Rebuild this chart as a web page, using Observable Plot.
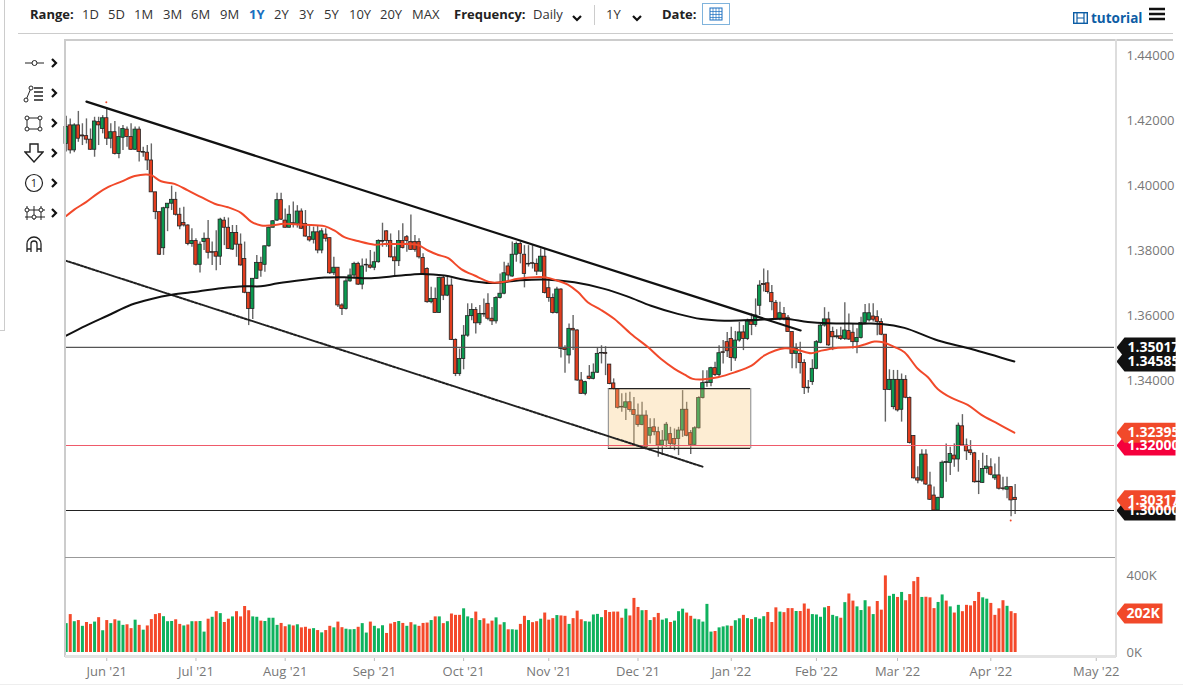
<!DOCTYPE html>
<html><head><meta charset="utf-8">
<script src="https://cdn.jsdelivr.net/npm/d3@7"></script>
<script src="https://cdn.jsdelivr.net/npm/@observablehq/plot@0.6"></script>
<style>
html,body{margin:0;padding:0;background:#fff;overflow:hidden}
#page{position:relative;width:1183px;height:689px;font-family:"Open Sans",sans-serif;color:#222;overflow:hidden}
#page>svg,#page>div.p{position:absolute}
.t{position:absolute;top:5px;font-size:13px;line-height:18px;white-space:nowrap;color:#333}
.b{font-weight:700;color:#222}
.l{position:absolute;background:#ccc}
.ic{position:absolute}
</style></head><body><div id="page"></div>
<script>
const open=[
1.4128,1.4185,1.4108,1.4185,1.4154,1.4152,1.4141,1.4110,1.4195,1.4174,
1.4207,1.4144,1.4164,1.4097,1.4147,1.4172,1.4149,1.4110,1.4172,1.4103,
1.4101,1.4077,1.3979,1.3918,1.3807,1.3930,1.3944,1.3956,1.3910,1.3885,
1.3877,1.3820,1.3829,1.3756,1.3826,1.3836,1.3795,1.3795,1.3781,1.3892,
1.3870,1.3803,1.3854,1.3818,1.3774,1.3670,1.3620,1.3713,1.3762,1.3756,
1.3813,1.3870,1.3892,1.3955,1.3892,1.3870,1.3884,1.3882,1.3920,1.3882,
1.3841,1.3833,1.3856,1.3800,1.3849,1.3838,1.3730,1.3747,1.3631,1.3620,
1.3705,1.3723,1.3759,1.3695,1.3756,1.3754,1.3747,1.3764,1.3829,1.3859,
1.3829,1.3779,1.3767,1.3829,1.3841,1.3826,1.3826,1.3826,1.3777,1.3743,
1.3641,1.3651,1.3608,1.3716,1.3661,1.3692,1.3525,1.3420,1.3466,1.3538,
1.3598,1.3617,1.3576,1.3605,1.3636,1.3590,1.3582,1.3654,1.3667,1.3751,
1.3720,1.3787,1.3820,1.3787,1.3759,1.3761,1.3759,1.3735,1.3781,1.3684,
1.3654,1.3608,1.3680,1.3499,1.3477,1.3559,1.3554,1.3400,1.3359,1.3412,
1.3405,1.3424,1.3485,1.3485,1.3449,1.3391,1.3374,1.3319,1.3316,1.3333,
1.3309,1.3292,1.3263,1.3292,1.3230,1.3256,1.3241,1.3200,1.3215,1.3235,
1.3220,1.3220,1.3246,1.3310,1.3238,1.3202,1.3253,1.3346,1.3394,1.3392,
1.3438,1.3417,1.3487,1.3518,1.3528,1.3468,1.3523,1.3548,1.3528,1.3581,
1.3571,1.3630,1.3697,1.3699,1.3669,1.3639,1.3589,1.3605,1.3593,1.3549,
1.3482,1.3482,1.3454,1.3378,1.3395,1.3436,1.3516,1.3569,1.3588,1.3549,
1.3533,1.3536,1.3528,1.3552,1.3547,1.3518,1.3531,1.3577,1.3585,1.3597,
1.3595,1.3580,1.3541,1.3371,1.3318,1.3402,1.3310,1.3402,1.3346,1.3229,
1.3099,1.3092,1.3172,1.3077,1.3046,1.3000,1.3039,1.3146,1.3146,1.3169,
1.3157,1.3259,1.3200,1.3185,1.3176,1.3089,1.3085,1.3128,1.3133,1.3099,
1.3108,1.3068,1.3064,1.3072,1.3039];
const close=[
1.4180,1.4108,1.4185,1.4144,1.4151,1.4141,1.4110,1.4197,1.4185,1.4207,
1.4144,1.4164,1.4097,1.4149,1.4174,1.4149,1.4110,1.4172,1.4103,1.4101,
1.4077,1.3979,1.3918,1.3787,1.3930,1.3944,1.3956,1.3910,1.3874,1.3877,
1.3820,1.3829,1.3756,1.3818,1.3836,1.3793,1.3793,1.3781,1.3895,1.3870,
1.3805,1.3854,1.3818,1.3754,1.3670,1.3620,1.3713,1.3762,1.3738,1.3813,
1.3870,1.3890,1.3955,1.3895,1.3870,1.3910,1.3881,1.3920,1.3867,1.3843,
1.3831,1.3856,1.3800,1.3859,1.3836,1.3730,1.3747,1.3631,1.3620,1.3705,
1.3723,1.3759,1.3695,1.3751,1.3754,1.3747,1.3764,1.3829,1.3827,1.3829,
1.3779,1.3767,1.3829,1.3808,1.3829,1.3802,1.3802,1.3779,1.3728,1.3641,
1.3651,1.3608,1.3716,1.3661,1.3692,1.3525,1.3420,1.3466,1.3538,1.3598,
1.3617,1.3576,1.3605,1.3603,1.3590,1.3582,1.3654,1.3667,1.3730,1.3723,
1.3787,1.3820,1.3790,1.3728,1.3757,1.3759,1.3735,1.3781,1.3669,1.3654,
1.3608,1.3680,1.3497,1.3494,1.3559,1.3554,1.3400,1.3359,1.3395,1.3405,
1.3424,1.3482,1.3483,1.3482,1.3389,1.3374,1.3316,1.3317,1.3333,1.3309,
1.3294,1.3263,1.3292,1.3194,1.3254,1.3241,1.3200,1.3215,1.3264,1.3205,
1.3203,1.3246,1.3310,1.3230,1.3202,1.3253,1.3346,1.3392,1.3392,1.3438,
1.3417,1.3484,1.3485,1.3490,1.3469,1.3523,1.3548,1.3528,1.3581,1.3571,
1.3600,1.3692,1.3694,1.3672,1.3641,1.3589,1.3607,1.3589,1.3549,1.3482,
1.3497,1.3454,1.3377,1.3376,1.3436,1.3518,1.3569,1.3588,1.3508,1.3533,
1.3536,1.3528,1.3554,1.3526,1.3518,1.3531,1.3577,1.3607,1.3607,1.3587,
1.3580,1.3541,1.3371,1.3402,1.3402,1.3308,1.3402,1.3347,1.3208,1.3099,
1.3092,1.3172,1.3080,1.3033,1.3000,1.3039,1.3147,1.3149,1.3174,1.3157,
1.3261,1.3200,1.3182,1.3177,1.3087,1.3087,1.3128,1.3135,1.3110,1.3108,
1.3067,1.3066,1.3072,1.3031,1.3032];
const high=[
1.4213,1.4205,1.4190,1.4228,1.4190,1.4205,1.4174,1.4210,1.4210,1.4215,
1.4239,1.4190,1.4197,1.4180,1.4185,1.4180,1.4190,1.4180,1.4180,1.4118,
1.4123,1.4128,1.3979,1.3918,1.3933,1.3944,1.3998,1.3979,1.3930,1.3933,
1.3879,1.3867,1.3836,1.3826,1.3854,1.3892,1.3826,1.3861,1.3899,1.3902,
1.3900,1.3877,1.3877,1.3851,1.3826,1.3670,1.3713,1.3785,1.3779,1.3813,
1.3872,1.3892,1.3976,1.3976,1.3928,1.3938,1.3949,1.3938,1.3928,1.3923,
1.3877,1.3872,1.3877,1.3867,1.3867,1.3839,1.3779,1.3747,1.3636,1.3713,
1.3743,1.3764,1.3764,1.3774,1.3774,1.3800,1.3795,1.3833,1.3884,1.3861,
1.3851,1.3810,1.3861,1.3882,1.3846,1.3909,1.3846,1.3836,1.3790,1.3747,
1.3687,1.3685,1.3718,1.3723,1.3718,1.3713,1.3528,1.3497,1.3569,1.3636,
1.3636,1.3625,1.3631,1.3651,1.3667,1.3625,1.3658,1.3728,1.3764,1.3761,
1.3826,1.3826,1.3826,1.3815,1.3815,1.3815,1.3774,1.3805,1.3805,1.3707,
1.3666,1.3687,1.3682,1.3507,1.3574,1.3600,1.3556,1.3425,1.3398,1.3446,
1.3451,1.3500,1.3507,1.3504,1.3449,1.3405,1.3374,1.3359,1.3361,1.3364,
1.3348,1.3328,1.3333,1.3307,1.3282,1.3282,1.3256,1.3246,1.3271,1.3256,
1.3251,1.3256,1.3369,1.3333,1.3246,1.3258,1.3350,1.3430,1.3430,1.3441,
1.3456,1.3507,1.3523,1.3548,1.3564,1.3551,1.3579,1.3569,1.3589,1.3605,
1.3651,1.3707,1.3743,1.3738,1.3692,1.3646,1.3641,1.3625,1.3600,1.3549,
1.3513,1.3518,1.3464,1.3400,1.3464,1.3523,1.3574,1.3624,1.3610,1.3564,
1.3556,1.3564,1.3639,1.3605,1.3574,1.3559,1.3595,1.3634,1.3636,1.3636,
1.3615,1.3590,1.3541,1.3433,1.3431,1.3431,1.3420,1.3415,1.3349,1.3231,
1.3135,1.3187,1.3187,1.3118,1.3072,1.3041,1.3152,1.3205,1.3195,1.3205,
1.3269,1.3295,1.3220,1.3215,1.3179,1.3154,1.3176,1.3169,1.3159,1.3143,
1.3164,1.3102,1.3102,1.3072,1.3080];
const low=[
1.4103,1.4097,1.4101,1.4133,1.4123,1.4128,1.4108,1.4087,1.4123,1.4159,
1.4123,1.4113,1.4094,1.4082,1.4108,1.4118,1.4108,1.4108,1.4072,1.4087,
1.4046,1.3979,1.3895,1.3785,1.3785,1.3858,1.3923,1.3906,1.3864,1.3872,
1.3815,1.3810,1.3752,1.3731,1.3800,1.3774,1.3754,1.3738,1.3754,1.3815,
1.3803,1.3800,1.3779,1.3752,1.3667,1.3569,1.3588,1.3711,1.3718,1.3733,
1.3810,1.3870,1.3889,1.3892,1.3869,1.3869,1.3869,1.3869,1.3865,1.3841,
1.3826,1.3820,1.3790,1.3790,1.3826,1.3726,1.3723,1.3625,1.3600,1.3617,
1.3702,1.3713,1.3692,1.3679,1.3733,1.3743,1.3738,1.3761,1.3810,1.3810,
1.3777,1.3723,1.3751,1.3805,1.3795,1.3800,1.3795,1.3774,1.3723,1.3638,
1.3636,1.3607,1.3607,1.3646,1.3658,1.3523,1.3412,1.3413,1.3433,1.3533,
1.3584,1.3543,1.3569,1.3595,1.3584,1.3569,1.3574,1.3651,1.3664,1.3708,
1.3718,1.3764,1.3759,1.3685,1.3749,1.3743,1.3723,1.3733,1.3666,1.3641,
1.3605,1.3605,1.3469,1.3422,1.3451,1.3492,1.3398,1.3357,1.3353,1.3402,
1.3402,1.3422,1.3451,1.3415,1.3387,1.3371,1.3312,1.3302,1.3277,1.3302,
1.3200,1.3256,1.3261,1.3189,1.3205,1.3230,1.3164,1.3169,1.3194,1.3189,
1.3184,1.3169,1.3225,1.3227,1.3172,1.3200,1.3251,1.3343,1.3379,1.3381,
1.3412,1.3410,1.3451,1.3471,1.3428,1.3459,1.3518,1.3492,1.3523,1.3538,
1.3564,1.3600,1.3672,1.3666,1.3615,1.3586,1.3584,1.3584,1.3549,1.3436,
1.3436,1.3420,1.3357,1.3361,1.3385,1.3433,1.3513,1.3564,1.3505,1.3492,
1.3528,1.3523,1.3523,1.3523,1.3497,1.3482,1.3528,1.3574,1.3580,1.3580,
1.3538,1.3538,1.3272,1.3369,1.3310,1.3303,1.3272,1.3344,1.3205,1.3097,
1.3082,1.3087,1.3077,1.3031,1.2999,1.2999,1.3036,1.3087,1.3108,1.3133,
1.3118,1.3197,1.3154,1.3169,1.3084,1.3049,1.3084,1.3113,1.3107,1.3092,
1.3063,1.3061,1.3036,1.2981,1.2988];

const volume=[
150,197,160,166,136,156,146,158,181,113,166,150,170,163,141,144,124,168,141,116,
138,171,197,202,186,160,161,170,146,138,143,160,160,161,106,173,183,212,202,156,
173,185,212,185,239,217,185,183,163,161,178,178,141,151,134,143,138,144,128,131,
121,124,114,102,114,136,128,158,129,121,118,119,131,150,101,158,136,123,139,99,
148,156,161,151,136,155,143,136,151,153,166,185,185,150,160,200,193,193,227,185,
176,210,166,175,148,163,180,143,155,118,118,116,146,188,166,155,160,173,205,168,
176,192,190,188,146,176,215,170,160,158,195,198,181,218,208,210,210,178,
225,190,281,234,217,218,166,181,203,168,175,156,163,212,225,205,188,173,170,158,
250,106,109,128,133,138,136,165,175,193,176,171,181,173,186,208,156,232,210,207,
228,228,213,213,252,225,197,195,183,232,239,193,186,178,259,304,267,237,218,269,
237,197,265,220,398,292,302,286,312,269,301,368,390,286,287,284,228,260,299,267,
237,205,245,212,245,242,265,312,284,277,255,193,227,269,240,212,202];
const volumeDir=(
"GRGRGRRGRGRGRGGRRGRGRRRRGGGRRGRGRGGRGRGRRGRRRRGGRGGGGRRGRGRRRGRGRRGRRGGGRGGRGGGRRRGRGRGRRRGRGRRRGGGRGRRRGRGRGGRRGRRGRRGRRRGGGGGRRRRRR"
).length?[
"G","R","G","R","G","R","R","G","R","G","R","G","R","G","G","R","R","G","R","G",
"R","R","R","R","G","G","G","R","R","G","R","G","R","G","G","R","G","R","G","R",
"R","G","R","R","R","R","G","G","R","G","G","G","G","R","R","G","R","G","R","R",
"R","G","R","G","R","R","G","R","R","G","G","G","R","G","G","R","G","G","G","R",
"R","R","G","R","G","R","G","R","R","R","G","R","G","R","G","R","R","R","G","G",
"G","R","G","R","R","R","G","R","G","R","G","G","R","R","G","R","R","G","R","R",
"R","G","R","R","G","R","R","R","G","G","G","G","G","R","R","R","R","R",
"G","R","R","R","G","R","G","R","R","G","G","R","G","G","G","R","R","G","G","G",
"G","G","R","G","G","G","R","G","G","R","G","R","G","G","G","R","R","R","G","R",
"R","R","G","R","R","R","G","G","G","G","R","G","G","R","G","R","R","G","G","G",
"R","G","R","R","R","G","G","R","G","R","R","R","R","G","R","R","R","G","G","R",
"G","R","G","R","R","R","R","R","G","G","R","R","R","R","G","R","R"]:[];

const redMaIndex=[0,2,4.9,7.8,10.3,13.6,16.9,19.7,21.1,23.4,26.7,30,33.3,36.6,39.9,43.1,45.6,48.1,50.5,53.8,58.7,63.7,66.2,68.6,71.9,76,78.5,82.6,86.7,89.2,91.6,94.1,97.4,100.7,104.8,108.1,111.4,118,121.2,123.7,126.2,128.6,131.9,135.2,139.3,143.5,146.7,150,152.5,154.5,156.6,160.7,164.8,169,172.2,177.2,180.4,183.7,186.2,190.3,194.4,196.9,199.3,201.4,204.3,206.7,210,212.5,214.9,218.2,222.3,225.6,229.7,233.8];
const redMa=[1.3906,1.3926,1.3949,1.3976,1.3995,1.4012,1.4029,1.4034,1.4031,1.4013,1.4005,1.3985,1.3964,1.3944,1.3933,1.3916,1.3889,1.3877,1.3877,1.3882,1.3879,1.3875,1.3861,1.3841,1.3829,1.3818,1.3820,1.3820,1.3817,1.3800,1.3787,1.3777,1.3743,1.3723,1.3702,1.3704,1.3713,1.3718,1.3707,1.3695,1.3672,1.3641,1.3617,1.3589,1.3543,1.3502,1.3466,1.3436,1.3418,1.3405,1.3403,1.3410,1.3425,1.3446,1.3477,1.3499,1.3494,1.3484,1.3492,1.3501,1.3503,1.3511,1.3520,1.3518,1.3503,1.3487,1.3436,1.3410,1.3374,1.3347,1.3325,1.3295,1.3267,1.32395];
const blackMaIndex=[0,4.9,10.3,16,21,26,32.5,38.2,44,48,52.2,58.8,63.7,68.6,75.2,81.8,87.5,93.3,98.2,104.8,111.4,118,125.3,132.7,138.5,144.2,150.8,156.6,162.3,168.9,177.1,182.9,187.8,196,201,206.7,215,223.2,233.8];
const blackMa=[1.3538,1.3569,1.3600,1.3633,1.3651,1.3664,1.3674,1.3684,1.3690,1.3690,1.3699,1.3710,1.3717,1.3718,1.3715,1.3722,1.3728,1.3723,1.3710,1.3700,1.3708,1.3711,1.3702,1.3682,1.3658,1.3630,1.3605,1.3589,1.3584,1.3586,1.3590,1.3580,1.3576,1.3575,1.3574,1.3562,1.3523,1.3497,1.34585];

const trendIndex=[5,181.1];
const trendPrice=[1.4258,1.3554];
const channelIndex=[-0.2,156.9];
const channelPrice=[1.3769,1.3135];
const boxIndex=[133.7,168.8];
const boxPrice=[1.3375,1.3191];
const extremeIndex=[9.9,232.9];
const extremePrice=[1.4256,1.2969];
const levelPrices=[1.35017,1.32,1.30];
const levelColors=["#555","#ef5a6a","#222"];
const priceTicks=[1.44,1.42,1.40,1.38,1.36,1.34];
const monthIndex=[10,32,54,76,98,119,141,164,185,205,228,254];
const monthLabels=["Jun '21","Jul '21","Aug '21","Sep '21","Oct '21","Nov '21","Dec '21","Jan '22","Feb '22","Mar '22","Apr '22","May '22"];
const tagValues=[1.35017,1.34585,1.32,1.32395,1.30,1.30317];
const tagColors=["#111","#111","#f5003c","#f1492a","#111","#f1492a"];
const rangeLabels=["1D","5D","1M","3M","6M","9M","1Y","2Y","3Y","5Y","10Y","20Y","MAX"];

const RED="#e23d1e",GREEN="#0b9a50",FONT='"Open Sans",sans-serif';
const candles=open.map((o,i)=>({i,open:o,close:close[i],high:high[i],low:low[i]}));
const vols=volume.map((v,i)=>({i,v,up:volumeDir[i]==="G"}));
const xDomain=[-0.17,258.5];
const tagSymbol=w=>({draw(c){c.moveTo(0,0);c.lineTo(8,-10);c.lineTo(w,-10);c.lineTo(w,10);c.lineTo(8,10);c.closePath();}});
const pairs=(a,b)=>a.map((x,k)=>({x,y:b[k]}));

const page=document.getElementById("page");

const price=Plot.plot({
  width:1183,height:558,marginTop:40,marginBottom:1,marginLeft:65,marginRight:69,
  style:{fontFamily:FONT,fontSize:"13px",background:"transparent",overflow:"visible"},
  x:{domain:xDomain,axis:null},
  y:{domain:[1.28554,1.44462],axis:null},
  marks:[
    Plot.axisY({anchor:"right",ticks:priceTicks,tickSize:0,tickPadding:12,tickFormat:d3.format(".5f"),color:"#777",label:null,fontSize:13}),
    Plot.ruleX(candles,{x:"i",y1:"low",y2:"high",stroke:"#666",strokeWidth:1.4}),
    Plot.rect(candles,{x1:d=>d.i-0.42,x2:d=>d.i+0.42,y1:"open",y2:"close",
      fill:d=>d.close>=d.open?GREEN:RED,stroke:"#222",strokeWidth:0.8}),
    Plot.rect([{}],{x1:()=>boxIndex[0],x2:()=>boxIndex[1],y1:()=>boxPrice[0],y2:()=>boxPrice[1],fill:"#f8c878",fillOpacity:0.33}),
    Plot.ruleY([boxPrice[0],boxPrice[1]],{x1:boxIndex[0],x2:boxIndex[1],stroke:"#222",strokeWidth:1.2}),
    Plot.ruleX([boxIndex[0],boxIndex[1]],{y1:boxPrice[0],y2:boxPrice[1],stroke:"#999",strokeWidth:1.2}),
    Plot.ruleY(levelPrices,{stroke:(d,k)=>levelColors[k],strokeWidth:1.2}),
    Plot.line(pairs(channelIndex,channelPrice),{x:"x",y:"y",stroke:"#222",strokeWidth:2,strokeDasharray:"2.5,1.5"}),
    Plot.line(pairs(blackMaIndex,blackMa),{x:"x",y:"y",stroke:"#111",strokeWidth:2,curve:"catmull-rom"}),
    Plot.line(pairs(redMaIndex,redMa),{x:"x",y:"y",stroke:"#f1492a",strokeWidth:2,curve:"catmull-rom"}),
    Plot.line(pairs(trendIndex,trendPrice),{x:"x",y:"y",stroke:"#111",strokeWidth:2.2}),
    Plot.dot(pairs(extremeIndex,extremePrice),{x:"x",y:"y",r:1,fill:"#f1492a"}),
    Plot.dot(tagValues,{y:d=>d,frameAnchor:"right",dx:2,symbol:tagSymbol(59),r:5,fill:(d,k)=>tagColors[k],stroke:"none"}),
    Plot.text(tagValues,{y:d=>d,text:d=>d.toFixed(5),frameAnchor:"right",dx:13,textAnchor:"start",fill:"#fff",fontWeight:700,fontSize:14,
      render:null})
  ]
});
price.style.left="0";price.style.top="0";
page.appendChild(price);

const vol=Plot.plot({
  width:1183,height:131,marginTop:0,marginBottom:33,marginLeft:65,marginRight:69,
  style:{fontFamily:FONT,fontSize:"13px",background:"transparent",overflow:"visible"},
  x:{domain:xDomain,axis:null},
  y:{domain:[0,400],range:[94,17],axis:null},
  marks:[
    Plot.axisY({anchor:"right",ticks:[0,400],tickSize:0,tickPadding:12,tickFormat:d=>d+"K",color:"#777",label:null,fontSize:13}),
    Plot.axisX({anchor:"bottom",ticks:monthIndex,tickFormat:d=>monthLabels[monthIndex.indexOf(d)],tickSize:5,tickPadding:5,color:"#777",stroke:"#bbb",label:null,fontSize:13}),
    Plot.ruleX(vols,{x:"i",y1:0,y2:"v",stroke:d=>d.up?"#0fb25e":"#f4492a",strokeWidth:3}),
    Plot.dot([volume[volume.length-1]],{y:d=>d,frameAnchor:"right",dx:2,symbol:tagSymbol(46),r:5,fill:"#f1492a",stroke:"none"}),
    Plot.text([volume[volume.length-1]],{y:d=>d,text:d=>d+"K",frameAnchor:"right",dx:12,textAnchor:"start",fill:"#fff",fontWeight:700,fontSize:14})
  ]
});
vol.style.left="0";vol.style.top="558px";
page.appendChild(vol);

function line(x,y,w,h,c){const d=document.createElement("div");d.className="l";d.style.cssText=`left:${x}px;top:${y}px;width:${w}px;height:${h}px;background:${c}`;page.appendChild(d);}
line(18,33,1155,1,"#ccc");
line(65,39,1108,2,"#ccc");
line(64,39,2,618,"#ccc");
line(1115,39,2,618,"#ddd");
line(65,557,1050,1,"#999");
line(65,655,1051,3,"#e3e3e3");
line(4,0,1,330,"#ccc");
line(0,330,5,1,"#ccc");
line(594,5,1,20,"#ccc");
line(0,684,1183,1,"#eee");

function txt(s,x,cls,extra){const d=document.createElement("span");d.className="t "+(cls||"");d.textContent=s;d.style.left=x+"px";if(extra)d.style.cssText+=extra;page.appendChild(d);}
txt("Range:",30,"b");
const rangeX=[82,108,134,163,191,220,249,274,299,324,349,380,412];
rangeLabels.forEach((r,k)=>txt(r,rangeX[k],r==="1Y"?"b":"",r==="1Y"?"color:#1a6fc0":""));
txt("Frequency:",454,"b");
txt("Daily",533);
txt("1Y",606);
txt("Date:",662,"b");
txt("tutorial",1091,"b","color:#0c5da5;top:9px;font-size:13.5px");

function icon(x,y,w,h,inner){const s=document.createElementNS("http://www.w3.org/2000/svg","svg");s.setAttribute("class","ic");s.setAttribute("width",w);s.setAttribute("height",h);s.style.left=x+"px";s.style.top=y+"px";s.innerHTML=inner;page.appendChild(s);}
const chev='<path d="M1 1 L5 5 L9 1" fill="none" stroke="#111" stroke-width="2.2"/>';
icon(572,15,10,7,chev);icon(632,15,10,7,chev);
const right='<path d="M1 1 L5 5 L1 9" fill="none" stroke="#111" stroke-width="2.2"/>';
[63,93,123,153,183,213].forEach(y=>icon(51,y-5,7,10,right));
icon(702,3,28,22,'<rect x=".5" y=".5" width="27" height="21" fill="#fff" stroke="#7fb3dc"/><rect x="8" y="5" width="12" height="12" fill="none" stroke="#1a6fc0"/><path d="M8 8.5H20M8 11.5H20M8 14.5H20M11 5V17M14 5V17M17 5V17" stroke="#1a6fc0" stroke-width=".7"/>');
icon(1073,12,15,12,'<rect x=".7" y=".7" width="13.6" height="10.6" fill="none" stroke="#0c5da5" stroke-width="1.4"/><path d="M4 1V11M11 1V11M4 6H11" stroke="#0c5da5" stroke-width="1.2"/>');
icon(1149,7,17,14,'<path d="M0 2H16M0 7H16M0 12H16" stroke="#111" stroke-width="2.4"/>');
icon(24,56,22,14,'<path d="M1 7H8M13 7H20" stroke="#222" stroke-width="1"/><circle cx="10.5" cy="7" r="2.5" fill="none" stroke="#222"/>');
icon(23,85,22,18,'<path d="M3 15L8 3" stroke="#222"/><circle cx="3" cy="15" r="2" fill="#fff" stroke="#222"/><circle cx="8" cy="3" r="2" fill="#fff" stroke="#222"/><path d="M11 3H20M11 7H20M11 11H20M11 15H20" stroke="#222" stroke-width="1.3"/>');
icon(24,115,20,17,'<rect x="3" y="3" width="13" height="11" fill="none" stroke="#222"/><circle cx="3" cy="3" r="2" fill="#fff" stroke="#222"/><circle cx="16" cy="3" r="2" fill="#fff" stroke="#222"/><circle cx="3" cy="14" r="2" fill="#fff" stroke="#222"/><circle cx="16" cy="14" r="2" fill="#fff" stroke="#222"/>');
icon(24,143,20,20,'<path d="M6 1H14V9H19L10 19L1 9H6Z" fill="none" stroke="#222" stroke-width="1.4"/>');
icon(24,173,20,20,'<circle cx="10" cy="10" r="8.5" fill="none" stroke="#222" stroke-width="1.2"/><text x="10" y="14" font-size="11" text-anchor="middle" fill="#222" font-family="Open Sans">1</text>');
icon(24,204,22,18,'<path d="M3 2V16M10 2V16M17 2V16M1 6H21M1 13H21" stroke="#222"/><circle cx="3" cy="6" r="2" fill="#fff" stroke="#222"/><circle cx="10" cy="13" r="2" fill="#fff" stroke="#222"/><circle cx="17" cy="6" r="2" fill="#fff" stroke="#222"/>');
icon(24,234,20,20,'<path d="M3 18V10A7 7 0 0 1 17 10V18M7 18V10A3 3 0 0 1 13 10V18M3 15H7M13 15H17" fill="none" stroke="#222" stroke-width="1.3"/>');
</script></body></html>
